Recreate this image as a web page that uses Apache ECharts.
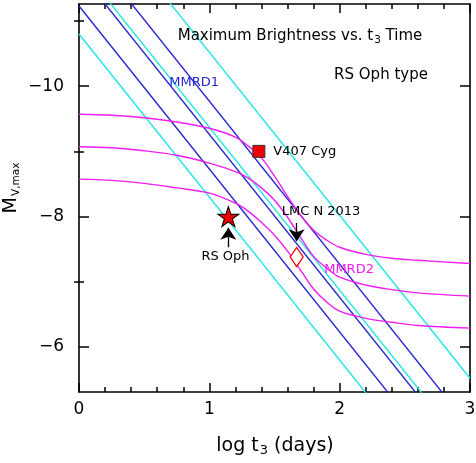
<!DOCTYPE html>
<html>
<head>
<meta charset="utf-8">
<script src="https://cdn.jsdelivr.net/npm/echarts@6/dist/echarts.min.js"></script>
<style>
  html, body { margin: 0; padding: 0; background: #fff; }
  #chart { width: 476px; height: 463px; }
</style>
</head>
<body>
<div id="chart"></div>
<script>
// ---- data ----
const xTicks = [0, 1, 2, 3];
const yTicks = [-10, -8, -6];
const yMinorTicks = [-11, -9, -7];

// straight MMRD1 lines (end points)
const blueLines = [
  [[0, -11.23], [3, -3.73]],
  [[0, -11.76], [3, -4.26]],
  [[0, -12.27], [3, -4.77]]
];
const cyanLines = [
  [[0, -10.80], [3, -3.30]],
  [[0, -11.87], [3, -4.37]],
  [[0, -13.02], [3, -5.52]]
];

// MMRD2 curves
const curveX = [0, 0.25, 0.5, 0.75, 1.0, 1.2, 1.3, 1.4, 1.5, 1.6, 1.7, 1.8, 1.9, 2.0, 2.2, 2.4, 2.6, 3.0];
const curveTop = [-9.57, -9.555, -9.515, -9.45, -9.355, -9.22, -9.08, -8.90, -8.62, -8.31, -8.02, -7.79, -7.64, -7.53, -7.42, -7.36, -7.33, -7.28];
const curveMid = [-9.07, -9.055, -9.01, -8.94, -8.82, -8.69, -8.59, -8.44, -8.25, -7.99, -7.68, -7.39, -7.21, -7.07, -6.95, -6.88, -6.83, -6.78];
const curveBot = [-8.575, -8.555, -8.51, -8.44, -8.36, -8.205, -8.08, -7.91, -7.715, -7.47, -7.18, -6.89, -6.69, -6.55, -6.44, -6.38, -6.33, -6.29];

// objects
const rsOph = [1.146, -8.0];
const v407Cyg = [1.38, -9.0];
const lmcN2013 = [1.67, -7.38];

// ---- styling ----
const FONT = 'DejaVu Sans';
const BLUE = '#2626d2';
const CYAN = '#1fe6e6';
const MAGENTA = '#f01ef0';
const RED = '#ee0000';
const STAR = 'path://M50 0 L61.23 34.55 L97.55 34.55 L68.16 55.9 L79.39 90.45 L50 69.1 L20.61 90.45 L31.84 55.9 L2.45 34.55 L38.77 34.55 Z';

// annotation anchors (data coords)
const notes = [
  { name: 'MMRD1', at: [0.883, -10.06], color: BLUE },
  { name: 'MMRD2', at: [2.072, -7.18], color: MAGENTA },
  { name: 'LMC N 2013', at: [1.857, -8.07], color: '#000' },
  { name: 'RS Oph', at: [1.124, -7.38], color: '#000' }
];

const chart = echarts.init(document.getElementById('chart'));

function straight(pts, color) {
  return {
    type: 'line', data: pts, symbol: 'none', showSymbol: false,
    lineStyle: { color: color, width: 1.4 }, z: 2, silent: true
  };
}
function curve(ys) {
  return {
    type: 'line', data: curveX.map((x, i) => [x, ys[i]]), symbol: 'none', showSymbol: false,
    smooth: 0.35, lineStyle: { color: MAGENTA, width: 1.4 }, z: 3, silent: true
  };
}

const axisLine = { show: true, onZero: false, lineStyle: { color: '#000', width: 1.6 } };
function xAx(pos, labels) {
  return {
    type: 'value', position: pos, min: 0, max: 3, interval: 1,
    axisLine: axisLine,
    axisTick: { show: true, inside: true, length: 9, lineStyle: { color: '#000', width: 1.5 } },
    minorTick: { show: true, splitNumber: 5, length: 5, lineStyle: { color: '#000', width: 1.5 } },
    axisLabel: { show: labels, fontSize: 17, fontFamily: FONT, color: '#000', margin: 9 },
    splitLine: { show: false }, minorSplitLine: { show: false }
  };
}
function yAx(pos, vals, len, labels, line) {
  return {
    type: 'value', position: pos, min: -11.26, max: -5.31, inverse: true,
    axisLine: line ? axisLine : { show: false },
    axisTick: { show: true, inside: true, length: len, customValues: vals, lineStyle: { color: '#000', width: 1.5 } },
    axisLabel: {
      show: labels, customValues: vals, fontSize: 17, fontFamily: FONT, color: '#000', margin: 15,
      formatter: v => String(v).replace('-', '\u2212')
    },
    splitLine: { show: false }
  };
}

chart.setOption({
  animation: false,
  backgroundColor: '#fff',
  grid: { left: 79, right: 6, top: 4, bottom: 71, outerBoundsMode: 'none' },
  xAxis: [xAx('bottom', true), xAx('top', false)],
  yAxis: [
    yAx('left', yTicks, 10, true, true),
    yAx('left', yMinorTicks, 5, false, false),
    yAx('right', yTicks, 10, false, true),
    yAx('right', yMinorTicks, 5, false, false)
  ],
  series: [
    ...cyanLines.map(l => straight(l, CYAN)),
    ...blueLines.map(l => straight(l, BLUE)),
    curve(curveTop), curve(curveMid), curve(curveBot),
    {
      type: 'lines', coordinateSystem: 'cartesian2d',
      symbol: ['none', 'arrow'], symbolSize: 12,
      lineStyle: { color: '#000', width: 1.3, opacity: 1 },
      data: [
        { coords: [[rsOph[0], -7.53], [rsOph[0], -7.83]] },
        { coords: [[lmcN2013[0], -7.9], [lmcN2013[0], -7.62]] }
      ],
      z: 11, silent: true
    },
    {
      type: 'scatter', data: [rsOph], symbol: STAR, symbolSize: [21, 20],
      itemStyle: { color: RED, borderColor: '#000', borderWidth: 1, opacity: 1 }, z: 12
    },
    {
      type: 'scatter', data: [v407Cyg], symbol: 'rect', symbolSize: 12,
      itemStyle: { color: RED, borderColor: '#333', borderWidth: 1, opacity: 1 }, z: 12,
      label: { show: true, position: 'right', distance: 8, formatter: 'V407 Cyg', fontSize: 13, fontFamily: FONT, color: '#000' }
    },
    {
      type: 'scatter', data: [lmcN2013], symbol: 'diamond', symbolSize: [13, 19],
      itemStyle: { color: '#fff', borderColor: RED, borderWidth: 1.3, opacity: 1 }, z: 12
    },
    {
      type: 'scatter', symbolSize: 0, z: 13, silent: true,
      data: notes.map(n => ({
        name: n.name, value: n.at,
        label: { color: n.color }
      })),
      label: {
        show: true, position: 'inside', formatter: p => p.name, fontSize: 13, fontFamily: FONT,
        color: '#000', textBorderWidth: 0, opacity: 1
      }
    }
  ],
  graphic: [
    {
      type: 'text', x: 300, y: 36, z: 20,
      style: {
        text: '{n|Maximum Brightness vs. t}{s|3}{n| Time}',
        align: 'center', verticalAlign: 'middle', fill: '#000',
        rich: {
          n: { fontSize: 15, fontFamily: FONT, lineHeight: 22, fill: '#000' },
          s: { fontSize: 10.5, fontFamily: FONT, lineHeight: 13, padding: [9, 0, 0, 1], fill: '#000' }
        }
      }
    },
    {
      type: 'text', x: 381, y: 75, z: 20,
      style: { text: 'RS Oph type', fontSize: 15, fontFamily: FONT, fill: '#000', align: 'center', verticalAlign: 'middle' }
    },
    {
      type: 'text', x: 275, y: 446, z: 20,
      style: {
        text: '{n|log t}{s|3}{n| (days)}',
        align: 'center', verticalAlign: 'middle', fill: '#000',
        rich: {
          n: { fontSize: 19, fontFamily: FONT, lineHeight: 26, fill: '#000' },
          s: { fontSize: 13, fontFamily: FONT, lineHeight: 16, padding: [10, 0, 0, 1], fill: '#000' }
        }
      }
    },
    {
      type: 'text', x: 11, y: 188, rotation: Math.PI / 2, z: 20,
      style: {
        text: '{n|M}{s|V,max}',
        align: 'center', verticalAlign: 'middle', fill: '#000',
        rich: {
          n: { fontSize: 19, fontFamily: FONT, lineHeight: 24, fill: '#000' },
          s: { fontSize: 10.5, fontFamily: FONT, lineHeight: 13, padding: [11, 0, 0, 1], fill: '#000' }
        }
      }
    }
  ]
});
</script>
</body>
</html>
